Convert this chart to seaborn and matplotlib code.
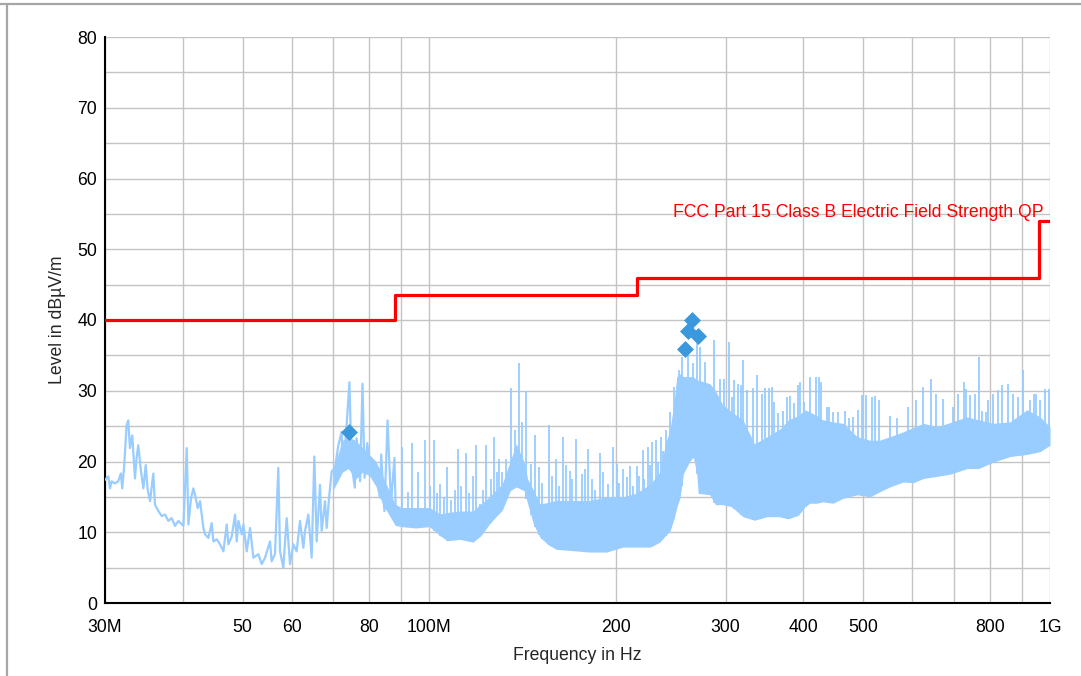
import numpy as np
import matplotlib
matplotlib.use("Agg")
import matplotlib.pyplot as plt
import seaborn as sns
from matplotlib.lines import Line2D
from matplotlib.ticker import NullLocator

# ---------------- data (MHz, dBuV/m) ----------------
# single noisy trace, 30-89 MHz
trace_f = [30.0, 30.37, 30.56, 30.75, 31.13, 31.51, 31.82, 31.98, 32.22, 32.50, 32.70, 32.91, 33.19,
           33.53, 33.73, 33.94, 34.29, 34.59, 34.89, 35.15, 35.46, 35.89, 36.11, 36.56, 37.02, 37.48,
           37.95, 38.42, 38.90, 39.39, 40.13, 40.63, 40.88, 41.28, 41.64, 41.90, 42.32, 42.69, 43.22,
           43.49, 44.03, 44.57, 44.85, 45.41, 45.97, 46.55, 47.13, 47.42, 48.01, 48.61, 48.91, 49.22,
           49.83, 50.14, 50.76, 51.39, 52.03, 53.0, 53.66, 54.33, 55.34, 55.68, 56.37, 57.07, 57.43,
           58.14, 58.87, 59.60, 60.34, 61.09, 61.85, 62.62, 63.01, 63.80, 64.59, 65.23, 65.80, 66.62,
           67.03, 67.87, 68.29, 68.88, 69.57, 70.43, 71.31, 72.2, 72.4, 73.3, 74.3, 74.9, 75.8, 76.3,
           77.3, 78.0, 78.6, 79.4, 80.3, 81.3, 82.2, 83.2, 83.6, 84.6, 85.6, 86.7, 87.8, 88.3, 88.8]
trace_db = [17.4, 17.9, 16.2, 17.2, 16.9, 17.2, 18.3, 16.2, 19.5, 25.1, 25.8, 21.9, 23.7,
            17.6, 20.5, 22.3, 18.6, 16.2, 19.5, 16.0, 14.4, 18.3, 13.9, 13.0, 12.3, 12.5,
            11.6, 12.0, 10.9, 11.6, 10.9, 21.9, 11.1, 14.8, 16.2, 15.3, 13.4, 14.4, 10.6,
            9.7, 9.2, 11.3, 8.7, 9.0, 8.3, 7.3, 11.1, 8.3, 9.4, 12.5, 8.7, 11.6,
            9.7, 11.1, 7.3, 10.6, 6.4, 6.9, 5.5, 6.4, 8.7, 5.9, 6.9, 19.1, 7.3,
            5.0, 12.0, 5.5, 8.3, 7.3, 11.6, 7.8, 10.2, 12.5, 6.4, 20.7, 8.7, 16.7,
            10.2, 14.4, 10.6, 14.8, 18.6, 19.1, 22.3, 24.2, 18.7, 23.3, 31.2, 19.6, 16.3, 23.3,
            17.2, 31.0, 17.7, 22.6, 18.7, 20.0, 17.7, 14.9, 21.0, 13.0, 25.8, 14.0, 20.5, 12.0, 11.0]

# dense band (lower / upper envelope), 70 MHz - 1 GHz
band_f = [70, 72.4, 74, 76, 78, 80, 82, 84, 86, 88,
          90, 95, 100, 104, 107, 112, 117.5, 121, 125, 128,
          131, 133, 135, 138, 142, 144, 147, 150.7, 155, 160,
          170, 181, 193, 205, 215, 227, 235, 240, 244.2, 248,
          250.3, 253.4, 256.6, 263, 266.2, 269.6, 271, 283, 289, 297,
          307, 320, 334, 350, 366, 379, 393, 403, 410, 421,
          430, 447, 464, 489, 513, 531, 552, 580, 602, 625,
          657, 690, 735, 767, 810, 862, 918, 964, 1000]
band_lo = [16, 18.5, 19, 17.5, 18.5, 18, 16.5, 14, 12.5, 11.0,
           10.8, 10.6, 10.8, 9.5, 8.8, 9.0, 8.6, 9.5, 11.2, 12.2,
           13.1, 14.5, 15.9, 16.4, 15.9, 14.0, 11.2, 9.3, 8.3, 7.6,
           7.4, 7.2, 7.2, 7.9, 7.9, 7.9, 8.6, 9.5, 10.2, 12.0,
           13.5, 14.9, 18.3, 20.1, 20.6, 18.3, 15.5, 15.3, 13.9, 13.9,
           13.6, 12.2, 11.7, 12.2, 12.2, 11.9, 12.4, 13.6, 14.1, 14.1,
           14.3, 14.1, 14.8, 15.3, 15.0, 15.7, 16.4, 17.1, 17.0, 17.6,
           17.9, 18.2, 19.0, 19.0, 19.9, 20.7, 21.0, 21.4, 22.3]
band_hi = [19, 23, 23.5, 23, 22, 21, 20, 18, 16, 14,
           13.5, 13.5, 13.5, 12.6, 12.8, 13.0, 13.0, 14.0, 15.0, 16.0,
           16.8, 18.5, 20.1, 22.5, 20.0, 17.5, 16.0, 14.0, 14.2, 14.5,
           14.5, 14.5, 15.0, 15.0, 15.5, 16.8, 18.5, 22.5, 24.5, 28.6,
           32.0, 32.4, 32.0, 32.0, 32.0, 31.5, 31.5, 31.0, 30.0, 28.0,
           27.0, 25.9, 22.5, 23.5, 24.5, 25.9, 26.5, 27.3, 27.0, 26.5,
           25.9, 25.6, 25.4, 23.5, 23.0, 23.0, 23.5, 24.2, 24.8, 25.4,
           24.9, 25.5, 26.3, 25.9, 25.4, 25.6, 27.3, 26.3, 24.9]

# narrow spikes above the band
spike_f = [90.2, 92.4, 93.8, 95.9, 98.2, 100.3, 101.8, 102.8, 104.1, 105.5,
           106.9, 108.5, 110.0, 111.0, 112.6, 114.4, 116.0, 117.5, 118.9, 120.7,
           122.0, 123.4, 125.5, 127.2, 128.5, 129.2, 131.1, 133.0, 135.3, 137.1,
           139.2, 140.9, 143.3, 145.7, 147.9, 150.2, 152.0, 155.8, 157.5, 159.8,
           162.0, 164.2, 166.0, 168.5, 170.0, 172.3, 175.9, 178.0, 180.3, 182.6,
           185.0, 188.3, 190.5, 194.3, 197.4, 200.3, 202.0, 205.3, 208.0, 210.5,
           213.0, 215.8, 218.0, 220.5, 222.0, 224.6, 226.5, 228.4, 231.9, 233.8,
           236.4, 238.0, 240.2, 244.1, 247.8,
           252.7, 255.0, 261.3, 266.2, 269.6, 272.9, 278.1, 287.8, 293.9, 298.3,
           303.6, 306.9, 309.6, 314.5, 317.5, 319.7, 325.2, 332.6, 337.5, 343.0,
           347.4, 353.0, 356.4, 359.2, 365.0, 371.8, 377.4, 381.0, 387.3, 393.1,
           395.6, 401.5, 410.5, 419.7, 423.7, 427.6, 436.8, 440.8, 447.6, 454.8,
           467.5, 475.0, 481.0, 490.5, 498.5, 506.0, 516.2, 522.0, 530.9, 552.4,
           566.2, 591.2, 608.3, 625.1, 642.4, 655.1, 673.2, 698.6, 710.2, 727.0,
           732.5, 743.3, 757.3, 769.4, 776.2, 789.0, 795.4, 810.4, 823.7, 836.0,
           856.8, 872.8, 889.2, 905.8, 928.6, 941.0, 948.5, 963.6, 981.8, 996.0]
spike_db = [22.0, 15.7, 22.6, 18.5, 23.0, 16.6, 23.0, 15.5, 16.8, 15.0,
            19.2, 14.5, 16.0, 21.8, 16.6, 21.2, 15.5, 18.0, 22.4, 14.0,
            16.0, 22.3, 17.5, 23.4, 18.5, 20.4, 18.5, 20.4, 30.4, 24.4,
            33.9, 25.6, 30.0, 19.7, 23.8, 19.2, 17.0, 25.2, 18.0, 20.4,
            16.5, 23.5, 19.5, 18.7, 17.5, 23.2, 18.3, 19.0, 21.8, 17.5,
            16.0, 21.2, 18.5, 16.8, 22.0, 19.7, 17.0, 19.0, 17.8, 19.4,
            16.5, 19.4, 18.0, 21.6, 17.5, 22.0, 19.5, 22.7, 23.0, 20.0,
            23.4, 21.5, 24.4, 27.0, 30.5,
            32.9, 34.8, 35.7, 33.9, 36.7, 36.2, 34.1, 37.2, 31.7, 31.7,
            36.9, 29.1, 31.5, 31.0, 30.8, 34.3, 30.1, 30.4, 32.2, 29.6,
            30.4, 30.4, 30.6, 28.4, 26.8, 27.2, 29.1, 29.2, 28.2, 30.8,
            31.3, 28.4, 32.0, 32.0, 32.0, 31.3, 27.7, 27.7, 27.0, 27.0,
            27.2, 26.1, 26.3, 27.3, 29.4, 29.4, 29.1, 29.2, 28.7, 26.5,
            26.1, 27.7, 28.7, 30.5, 31.7, 29.6, 28.9, 27.7, 29.6, 31.3,
            30.3, 29.4, 29.6, 34.8, 27.2, 27.0, 28.7, 29.6, 30.1, 30.8,
            31.0, 29.6, 29.1, 32.9, 28.7, 29.6, 29.6, 28.7, 30.3, 30.3]

# quasi-peak results
peak_f = [74.3, 258.2, 261.3, 264.6, 271.2]
peak_db = [24.2, 35.9, 38.5, 40.0, 37.7]

# limit line (FCC Part 15 Class B)
limit_f = [30, 88, 216, 960, 1000]
limit_db = [40, 43.5, 46, 54, 54]
limit_name = "FCC Part 15 Class B Electric Field Strength QP"

xtick_vals = [30, 40, 50, 60, 70, 80, 90, 100, 200, 300, 400, 500, 600, 700, 800, 900, 1000]
xtick_text = ["30M", "", "50", "60", "", "80", "", "100M", "200", "300", "400", "500", "", "", "800", "", "1G"]
ytick_major = [0, 10, 20, 30, 40, 50, 60, 70, 80]
ytick_minor = [5, 15, 25, 35, 45, 55, 65, 75]

# ---------------- drawing ----------------
sns.set_style("white")
plt.rcParams["font.family"] = ["Liberation Sans", "DejaVu Sans"]

SPEC = "#99ccff"
W, H = 1081, 676
fig = plt.figure(figsize=(W / 100, H / 100), dpi=100)
ax = fig.add_axes([105 / W, 1 - 603 / H, 945 / W, 566 / H])

ax.set_xscale("log")
ax.set_xlim(30, 1000)
ax.set_ylim(0, 80)
ax.set_xticks(xtick_vals)
ax.set_xticklabels(xtick_text)
ax.xaxis.set_minor_locator(NullLocator())
ax.set_yticks(ytick_major)
ax.set_yticks(ytick_minor, minor=True)
ax.set_axisbelow(True)
ax.grid(True, which="both", color="#c4c4c4", lw=1.0)

for s in ["top", "right"]:
    ax.spines[s].set_visible(False)
for s in ["left", "bottom"]:
    ax.spines[s].set_color("black")
    ax.spines[s].set_linewidth(1.5)

ax.tick_params(axis="both", which="both", direction="inout", length=7.2, width=1.4,
               colors="black", labelsize=12.7)
ax.tick_params(axis="y", pad=2)
ax.tick_params(axis="x", pad=8)

# spectrum
ax.fill_between(band_f, band_lo, band_hi, color=SPEC, lw=0, zorder=2)
spike_base = np.interp(spike_f, band_f, band_lo)
ax.vlines(spike_f, spike_base, spike_db, color=SPEC, lw=1.3, zorder=2)
sns.lineplot(x=trace_f, y=trace_db, ax=ax, color=SPEC, lw=1.6, estimator=None,
             sort=False, zorder=3)

# limit
sns.lineplot(x=limit_f, y=limit_db, ax=ax, color="#ff0000", lw=2.3, estimator=None,
             sort=False, drawstyle="steps-post", zorder=4)
ax.text(975, 54.5, limit_name, color="#ff0000", fontsize=12.7, ha="right", va="baseline", zorder=5)

# peaks
sns.scatterplot(x=peak_f, y=peak_db, ax=ax, marker="D", s=75, color="#3c98dc",
                linewidth=0, zorder=6)

ax.set_xlabel("Frequency in Hz", fontsize=12.7, labelpad=8)
ax.set_ylabel("Level in dBµV/m", fontsize=12.7, labelpad=8)

# outer frame (top and left)
fig.add_artist(Line2D([0, 1], [1 - 3.5 / H, 1 - 3.5 / H], color="#a6a6a6", lw=1.6))
fig.add_artist(Line2D([7 / W, 7 / W], [0, 1 - 3.5 / H], color="#a6a6a6", lw=1.6))

fig.savefig("out.png", dpi=100)
